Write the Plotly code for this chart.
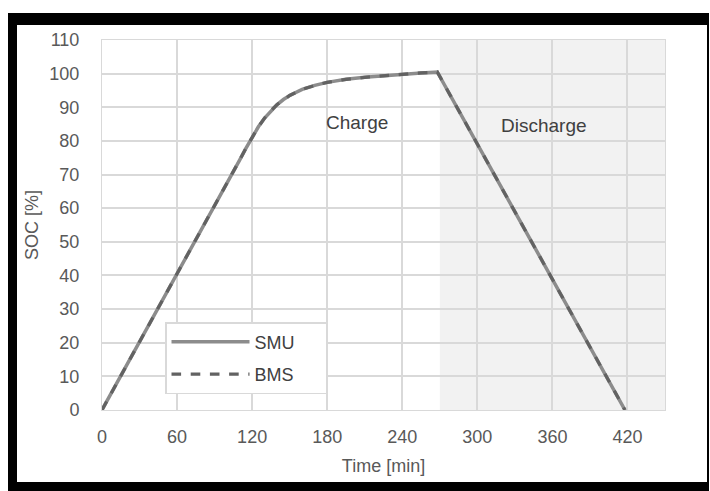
import plotly.graph_objects as go

# Data
time_min = [0, 60, 100, 110, 115, 120, 125, 130, 135, 140, 145, 150, 160, 170, 180, 195, 210, 225, 240, 255, 268, 418]
soc_smu = [0, 40.3, 67.3, 74.3, 77.8, 81.2, 84.2, 86.8, 89.0, 90.8, 92.3, 93.5, 95.3, 96.5, 97.4, 98.3, 98.9, 99.4, 99.8, 100.2, 100.5, 0]
soc_bms = [0, 40.3, 67.3, 74.3, 77.8, 81.2, 84.2, 86.8, 89.0, 90.8, 92.3, 93.5, 95.3, 96.5, 97.4, 98.3, 98.9, 99.4, 99.8, 100.2, 100.5, 0]
series_names = ["SMU", "BMS"]
x_ticks = [0, 60, 120, 180, 240, 300, 360, 420]
y_ticks = list(range(0, 111, 10))
discharge_start = 270
x_max = 450
y_max = 110

FONT = "Liberation Sans, Arial, sans-serif"
GRID = "#d9d9d9"
FS = 18
PAD = "&nbsp;" * 5  # widens the legend box to match the reference

fig = go.Figure()
fig.add_trace(go.Scatter(x=time_min, y=soc_smu, mode="lines", name=series_names[0] + PAD,
                         legendgroup="a", line=dict(color="#8c8c8c", width=3.5)))
fig.add_trace(go.Scatter(x=time_min, y=soc_bms, mode="lines", name=series_names[1] + PAD,
                         legendgroup="b", line=dict(color="#626262", width=3.2, dash="dash")))

# Discharge shading
fig.add_shape(type="rect", xref="x", yref="y", x0=discharge_start, x1=x_max, y0=0, y1=y_max,
              fillcolor="#f2f2f2", line=dict(width=0), layer="below")

# Outer frame (pixel positions converted to paper coords)
L, R, T, B = 102, 665, 40, 410
W, H = R - L, B - T
def px(x):
    return (x - L) / W
def py(y):
    return (B - y) / H
frame = [
    (8, 17, 13, 491),    # left bar
    (8, 709, 13, 25),    # top bar
    (8, 709, 482, 491),  # bottom bar
    (707, 709, 13, 491), # right line
]
for x0, x1, y0, y1 in frame:
    fig.add_shape(type="rect", xref="paper", yref="paper",
                  x0=px(x0), x1=px(x1), y0=py(y1), y1=py(y0),
                  fillcolor="black", line=dict(width=0), layer="above")

fig.add_annotation(x=204, y=85.5, text="Charge", showarrow=False,
                   font=dict(family=FONT, size=19, color="#404040"))
fig.add_annotation(x=353, y=84.5, text="Discharge", showarrow=False,
                   font=dict(family=FONT, size=19, color="#404040"))

fig.update_layout(
    width=710, height=491,
    margin=dict(l=L, r=710 - R, t=T, b=491 - B),
    paper_bgcolor="white", plot_bgcolor="white",
    font=dict(family=FONT, size=FS, color="#595959"),
    showlegend=True,
    legend=dict(x=px(165), y=py(322), xanchor="left", yanchor="top",
                bgcolor="white", bordercolor=GRID, borderwidth=1.5,
                font=dict(family=FONT, size=18, color="#404040"),
                tracegroupgap=6, itemwidth=78),
    xaxis=dict(range=[0, x_max], tickvals=x_ticks, showgrid=True, gridcolor=GRID,
               gridwidth=1.5, zeroline=False, showline=True, linecolor=GRID, mirror=True,
               ticks="", ticklabelstandoff=10,
               title=dict(text="Time [min]", standoff=13,
                          font=dict(family=FONT, size=FS, color="#595959"))),
    yaxis=dict(range=[0, y_max], tickvals=y_ticks, showgrid=True, gridcolor=GRID,
               gridwidth=1.5, zeroline=False, showline=True, linecolor=GRID, mirror=True,
               ticks="", ticklabelstandoff=18,
               title=dict(text="SOC [%]", standoff=6,
                          font=dict(family=FONT, size=FS, color="#595959"))),
)

fig.write_html("out.html", config={"displayModeBar": False},
               post_script="document.body.style.margin='0px';")
